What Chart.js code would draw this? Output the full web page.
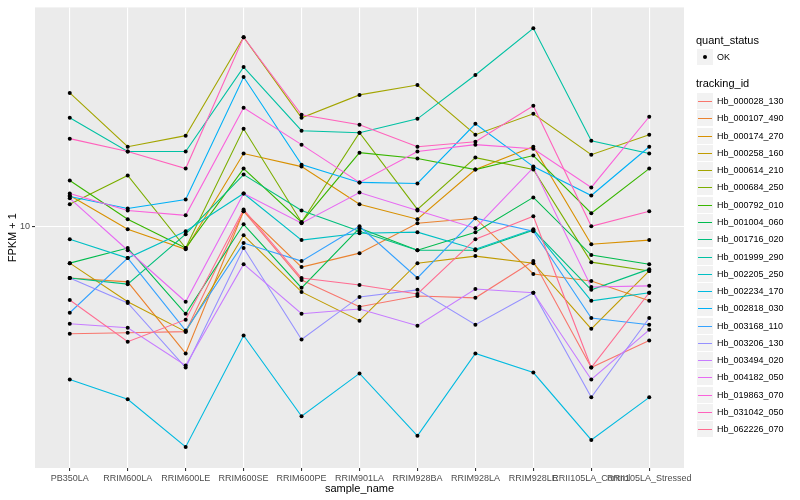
<!DOCTYPE html>
<html>
<head>
<meta charset="utf-8">
<script src="https://cdn.jsdelivr.net/npm/chart.js@4.4.0/dist/chart.umd.min.js"></script>
<style>
body{margin:0;background:#fff;font-family:"Liberation Sans",Arial,sans-serif;}
#wrap{position:relative;width:800px;height:500px;}
.ttl{position:absolute;left:696px;font-size:11px;line-height:13px;color:#000;white-space:nowrap;}
.key{position:absolute;left:697px;width:16px;height:16px;background:#f2f2f2;}
.key i{position:absolute;left:1px;top:8px;width:14px;height:1px;}
.key b{position:absolute;left:6px;top:6px;width:4px;height:4px;border-radius:50%;background:#000;}
.lab{position:absolute;left:717px;font-size:9px;line-height:11px;color:#000;white-space:nowrap;}
</style>
</head>
<body>
<div id="wrap">
<canvas id="chart" width="800" height="500"></canvas>
<div id="legend"></div>
</div>
<script>
var samples = ['PB350LA','RRIM600LA','RRIM600LE','RRIM600SE','RRIM600PE','RRIM901LA',
  'RRIM928BA','RRIM928LA','RRIM928LE','RRII105LA_Control','RRII105LA_Stressed'];

var trackingIds = ['Hb_000028_130','Hb_000107_490','Hb_000174_270','Hb_000258_160','Hb_000614_210',
  'Hb_000684_250','Hb_000792_010','Hb_001004_060','Hb_001716_020','Hb_001999_290',
  'Hb_002205_250','Hb_002234_170','Hb_002818_030','Hb_003168_110','Hb_003206_130',
  'Hb_003494_020','Hb_004182_050','Hb_019863_070','Hb_031042_050','Hb_062226_070'];

var colors = ['#F8766D','#EA8331','#D89000','#C09B00','#A3A500','#7CAE00','#39B600','#00BB4E',
  '#00BF7D','#00C1A3','#00BFC4','#00BAE0','#00B0F6','#35A2FF','#9590FF','#C77CFF',
  '#E76BF3','#FA62DB','#FF62BC','#FF6C91'];

// FPKM + 1, one array per tracking_id, in sample order
var hb000028 = [6.08, 6.11, 6.14, 10.72, 7.80, 6.89, 7.24, 7.18, 8.51, 5.20, 5.89];
var hb000107 = [7.87, 7.73, 5.55, 10.72, 8.28, 8.83, 10.14, 10.38, 8.02, 7.76, 7.08];
var hb000174 = [11.53, 9.86, 8.99, 14.00, 13.18, 11.07, 10.33, 13.00, 14.45, 9.20, 9.38];
var hb000258 = [8.43, 7.05, 6.14, 9.59, 7.38, 6.46, 8.43, 8.71, 8.43, 6.22, 8.13];
var hb000614 = [18.54, 14.45, 15.21, 23.99, 16.52, 18.37, 19.23, 15.28, 16.83, 13.93, 15.28];
var hb000684 = [11.07, 12.65, 9.04, 15.70, 10.19, 15.42, 10.81, 13.74, 13.00, 8.47, 8.13];
var hb000792 = [12.36, 10.33, 9.04, 13.06, 10.19, 14.06, 13.68, 13.00, 13.87, 10.62, 13.06];
var hb001004 = [8.43, 9.04, 6.67, 10.09, 7.52, 9.91, 8.95, 9.73, 11.43, 8.75, 8.39];
var hb001716 = [7.87, 7.65, 9.64, 12.70, 10.76, 9.77, 8.95, 8.95, 9.82, 7.45, 8.20];
var hb001999 = [16.52, 14.13, 14.13, 20.89, 15.56, 15.42, 16.44, 20.14, 25.00, 14.86, 14.00];
var hb002205 = [9.42, 8.63, 9.77, 11.64, 9.38, 9.68, 9.73, 8.99, 9.86, 7.08, 7.35];
var hb002234 = [4.92, 4.49, 3.60, 6.03, 4.15, 5.06, 3.79, 5.55, 5.08, 3.72, 4.53];
var hb002818 = [11.48, 10.86, 11.32, 19.95, 13.30, 12.25, 12.19, 16.07, 13.18, 11.53, 14.45];
var hb003168 = [6.70, 8.63, 6.17, 9.25, 8.51, 10.00, 7.87, 10.38, 9.77, 6.54, 6.34];
var hb003206 = [7.87, 7.01, 5.20, 9.04, 5.92, 7.21, 7.45, 6.34, 7.35, 4.53, 6.54];
var hb003494 = [6.37, 6.25, 5.25, 8.39, 6.67, 6.82, 6.31, 7.48, 7.35, 4.92, 6.19];
var hb004182 = [11.38, 8.95, 7.05, 11.64, 10.14, 11.69, 10.76, 9.91, 13.12, 7.55, 7.59];
var hb019863 = [11.64, 10.76, 10.52, 17.30, 14.59, 12.25, 14.13, 14.59, 14.32, 11.97, 16.60];
var hb031042 = [15.00, 14.13, 13.06, 23.99, 16.75, 16.00, 14.45, 14.79, 17.46, 10.00, 10.72];
var hb062226 = [7.11, 5.86, 6.49, 10.81, 7.87, 7.62, 7.31, 9.42, 10.47, 5.20, 7.35];

var yTicks = [10];

var series = [hb000028, hb000107, hb000174, hb000258, hb000614, hb000684, hb000792, hb001004,
  hb001716, hb001999, hb002205, hb002234, hb002818, hb003168, hb003206, hb003494,
  hb004182, hb019863, hb031042, hb062226];

var datasets = [];
var allPoints = [];
for (var s = 0; s < series.length; s++) {
  var pts = [];
  for (var i = 0; i < samples.length; i++) {
    pts.push({x: i + 1, y: series[s][i]});
    allPoints.push({x: i + 1, y: series[s][i]});
  }
  datasets.push({
    label: trackingIds[s],
    data: pts,
    borderColor: colors[s],
    borderWidth: 1.1,
    pointRadius: 0,
    fill: false,
    tension: 0,
    order: series.length - s
  });
}
datasets.push({
  label: 'OK',
  data: allPoints,
  showLine: false,
  pointRadius: 2,
  pointBackgroundColor: '#000',
  pointBorderWidth: 0,
  order: 0
});

var panelBg = {
  id: 'panelBg',
  beforeDraw: function (chart) {
    var a = chart.chartArea, ctx = chart.ctx;
    ctx.save();
    ctx.fillStyle = '#EBEBEB';
    ctx.fillRect(a.left, a.top, a.right - a.left, a.bottom - a.top);
    ctx.restore();
  }
};

var font = '"Liberation Sans", Arial, sans-serif';

new Chart(document.getElementById('chart'), {
  type: 'line',
  data: {datasets: datasets},
  plugins: [panelBg],
  options: {
    responsive: false,
    animation: false,
    layout: {padding: {top: 5, right: 116, left: 0, bottom: 0}},
    plugins: {legend: {display: false}, tooltip: {enabled: false}},
    scales: {
      x: {
        type: 'linear',
        min: 0.4,
        max: 11.6,
        afterBuildTicks: function (scale) {
          scale.ticks = samples.map(function (c, i) { return {value: i + 1}; });
        },
        afterFit: function (scale) { scale.height = 32; },
        ticks: {
          autoSkip: false, maxRotation: 0, minRotation: 0, padding: 2,
          color: '#4D4D4D', font: {family: font, size: 9},
          callback: function (v) { return samples[v - 1]; }
        },
        grid: {color: '#FFFFFF', lineWidth: 1.1, tickColor: '#333333', tickLength: 3},
        border: {display: false},
        title: {display: true, text: 'sample_name', color: '#000', font: {family: font, size: 11}, padding: {top: 0, bottom: 4}}
      },
      y: {
        type: 'logarithmic',
        min: 3.266,
        max: 27.54,
        afterBuildTicks: function (scale) {
          scale.ticks = yTicks.map(function (v) { return {value: v}; });
        },
        afterFit: function (scale) { scale.width = 35; },
        ticks: {
          padding: 2, color: '#4D4D4D', font: {family: font, size: 9},
          callback: function (v) { return String(v); }
        },
        grid: {color: '#FFFFFF', lineWidth: 1.1, tickColor: '#333333', tickLength: 3},
        border: {display: false},
        title: {display: true, text: 'FPKM + 1', color: '#000', font: {family: font, size: 11}, padding: {top: 6, bottom: 0}}
      }
    }
  }
});

// ggplot style legend on the right
var lg = document.getElementById('legend');
var html = '<div class="ttl" style="top:34px">quant_status</div>';
html += '<div class="key" style="top:49px"><b></b></div>';
html += '<div class="lab" style="top:52px">OK</div>';
html += '<div class="ttl" style="top:77px">tracking_id</div>';
for (var k = 0; k < trackingIds.length; k++) {
  var keyTop = Math.round(93 + k * 17.28);
  html += '<div class="key" style="top:' + keyTop + 'px"><i style="background:' + colors[k] + '"></i></div>';
  html += '<div class="lab" style="top:' + (keyTop + 3) + 'px">' + trackingIds[k] + '</div>';
}
lg.innerHTML = html;
</script>
</body>
</html>
